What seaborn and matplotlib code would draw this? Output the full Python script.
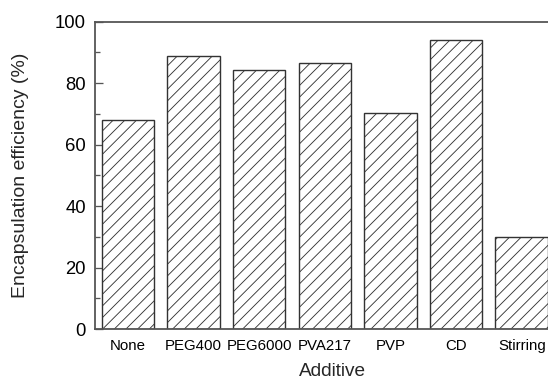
import matplotlib
matplotlib.use("Agg")
import matplotlib.pyplot as plt
import seaborn as sns
from matplotlib.ticker import MultipleLocator

# Data
additives = ['None', 'PEG400', 'PEG6000', 'PVA217', 'PVP', 'CD', 'Stirring']
efficiency = [68.0, 88.9, 84.2, 86.6, 70.3, 94.0, 30.0]

DPI = 70
sns.set_theme(style='white')
plt.rcParams['font.family'] = ['Liberation Sans', 'DejaVu Sans']
plt.rcParams['hatch.linewidth'] = 0.9


def pt(px):
    """Convert pixels to points at the figure dpi."""
    return px * 72.0 / DPI


fig = plt.figure(figsize=(548 / DPI, 383 / DPI), dpi=DPI)
ax = fig.add_axes([95 / 548, 54 / 383, 1 - 95 / 548, (329 - 21.7) / 383])

sns.barplot(x=additives, y=efficiency, color='white', edgecolor='#333333',
            linewidth=pt(1.4), width=0.8, saturation=1, ax=ax)
for bar in ax.patches:
    bar.set_hatch('//')
    bar.set_facecolor('white')

ax.set_xlim(-0.5, 6.4)
ax.set_ylim(0, 100)
ax.yaxis.set_major_locator(MultipleLocator(20))
ax.yaxis.set_minor_locator(MultipleLocator(10))

ax.tick_params(axis='y', which='major', direction='in', length=pt(8),
               width=pt(1.3), color='#555555', labelsize=pt(18.5), pad=pt(9),
               left=True, labelcolor='black')
ax.tick_params(axis='y', which='minor', direction='in', length=pt(5),
               width=pt(1.3), color='#555555', left=True)
ax.tick_params(axis='x', which='major', direction='in', length=pt(9),
               width=pt(1.3), color='#555555', labelsize=pt(15), pad=pt(10),
               bottom=True, labelcolor='black')

for side in ['left', 'bottom', 'top']:
    ax.spines[side].set_color('#555555')
    ax.spines[side].set_linewidth(pt(1.8))
ax.spines['right'].set_visible(False)

ax.set_xlabel('Additive', fontsize=pt(19))
ax.set_ylabel('Encapsulation efficiency (%)', fontsize=pt(19.5))
# label anchors measured on the reference (pixels)
ax.xaxis.set_label_coords((332 - 95) / 453, (329 - 363) / 307.3)
ax.yaxis.set_label_coords((29 - 95) / 453, 0.5)

fig.savefig('out.png', dpi=DPI)
